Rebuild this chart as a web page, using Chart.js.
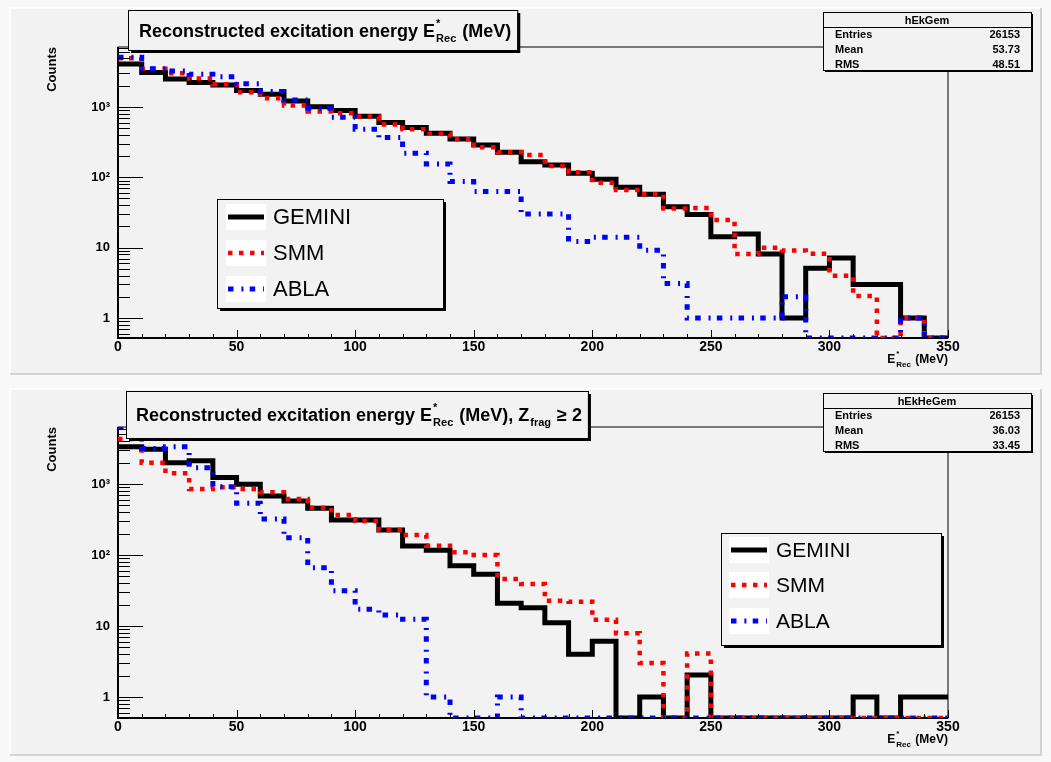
<!DOCTYPE html>
<html>
<head>
<meta charset="utf-8">
<script src="https://cdn.jsdelivr.net/npm/chart.js@4.4.1/dist/chart.umd.min.js"></script>
<style>
  html, body { margin: 0; padding: 0; background: #f8f8f8; }
  #wrap { position: relative; width: 1051px; height: 762px; }
  canvas { position: absolute; left: 0; }
  #cTop { top: 0; }
  #cBot { top: 381px; }
</style>
</head>
<body>
<div id="wrap">
  <canvas id="cTop" width="1051" height="381"></canvas>
  <canvas id="cBot" width="1051" height="381"></canvas>
</div>
<script>
// ---- data (10 MeV bins, 0..350 MeV) ----
const binEdges = [0, 10, 20, 30, 40, 50, 60, 70, 80, 90, 100, 110, 120, 130, 140, 150, 160, 170,
                  180, 190, 200, 210, 220, 230, 240, 250, 260, 270, 280, 290, 300, 310, 320, 330, 340, 350];

// all fragments
const topGemini = [4100, 3100, 2500, 2230, 2060, 1710, 1515, 1220, 1010, 890, 740, 600, 510, 424, 352, 289, 228, 167,
                   150, 114, 94, 72, 57.5, 38, 29.5, 14.3, 15.6, 8.1, 1, 5.1, 7.1, 3, 3, 1, 0];
const topSmm    = [4950, 3500, 3030, 2540, 2100, 1620, 1330, 1050, 860, 815, 730, 565, 483, 418, 347, 268, 228, 208,
                   145, 118, 84, 66, 57.5, 36, 36.5, 24.8, 8.1, 10, 9.1, 8.2, 4, 2.05, 0, 1, 0];
const topAbla   = [5100, 3500, 3260, 2925, 2700, 2140, 1660, 1260, 960, 716, 483, 367, 220, 155, 87, 63, 63, 30,
                   30, 12.2, 14, 14, 9.2, 3.1, 1, 1, 1, 1, 2, 0, 0, 0, 0, 1, 0];

// Z_frag >= 2
const botGemini = [3350, 3090, 1990, 2130, 1230, 990, 676, 577, 454, 310, 310, 225, 134, 117, 70.6, 53.5, 20.9, 18.1,
                   11.1, 4.0, 6.1, 0, 1, 0, 2.04, 0, 0, 0, 0, 0, 0, 1, 0, 1, 1];
const botSmm    = [4300, 1990, 1420, 850, 900, 850, 764, 617, 463, 366, 300, 225, 191, 135, 109, 100, 45.8, 39,
                   22.7, 22, 12.2, 7.9, 3.0, 0, 4.1, 0, 0, 0, 0, 0, 0, 0, 0, 0, 0];
const botAbla   = [6300, 3170, 3350, 1700, 915, 535, 321, 175, 66, 31.4, 17.2, 14.3, 12.4, 1, 0, 0, 1, 0,
                   0, 0, 0, 0, 0, 0, 0, 0, 0, 0, 0, 0, 0, 0, 0, 0, 0];

const seriesNames = ['GEMINI', 'SMM', 'ABLA'];
const xTickValues = [0, 50, 100, 150, 200, 250, 300, 350];
const yTickValues = [1, 10, 100, 1000];
const yTickLabels = ['1', '10', '10\u00b2', '10\u00b3'];

const statLabels = ['Entries', 'Mean', 'RMS'];
const topStatValues = ['26153', '53.73', '48.51'];
const botStatValues = ['26153', '36.03', '33.45'];

// ---- styles ----
const FONT = '"Liberation Sans", Arial, Helvetica, sans-serif';
Chart.defaults.font.family = FONT;

const seriesStyle = [
  { color: '#000000', width: 5, dash: [] },
  { color: '#ff0000', width: 4.5, dash: [4.5, 6.5] },
  { color: '#0000ff', width: 5, dash: [5.5, 7.9, 2, 6.3] }
];

// empty bins sit on the bottom of the log frame, like ROOT does
function histPoints(vals, yMin) {
  const pts = vals.map((v, i) => ({ x: binEdges[i], y: v > 0 ? v : yMin }));
  pts.push({ x: binEdges[vals.length], y: pts[pts.length - 1].y });
  return pts;
}

// draws text with E^{*}_{Rec} style stacked sup/sub pieces
function richText(ctx, x, y, segs, size, small, weight) {
  for (const s of segs) {
    if (s.t !== undefined) {
      ctx.font = `${weight} ${size}px ${FONT}`;
      ctx.fillText(s.t, x, y);
      x += ctx.measureText(s.t).width;
    } else {
      ctx.font = `${weight} ${small}px ${FONT}`;
      let w = 0;
      if (s.sup) { ctx.fillText(s.sup, x + 1, y - size * 0.55); w = Math.max(w, ctx.measureText(s.sup).width + 1); }
      if (s.sub) { ctx.fillText(s.sub, x + 1, y + size * 0.3); w = Math.max(w, ctx.measureText(s.sub).width + 1); }
      x += w + 1;
    }
  }
  return x;
}

function richWidth(ctx, segs, size, small, weight) {
  let w = 0;
  for (const s of segs) {
    if (s.t !== undefined) { ctx.font = `${weight} ${size}px ${FONT}`; w += ctx.measureText(s.t).width; }
    else {
      ctx.font = `${weight} ${small}px ${FONT}`;
      w += Math.max(s.sup ? ctx.measureText(s.sup).width + 1 : 0, s.sub ? ctx.measureText(s.sub).width + 1 : 0) + 1;
    }
  }
  return w;
}

function boxWithShadow(ctx, x, y, w, h, sh) {
  ctx.fillStyle = '#000';
  ctx.fillRect(x + sh, y + sh, w, h);
  ctx.fillStyle = '#f2f2f2';
  ctx.fillRect(x, y, w, h);
  ctx.strokeStyle = '#000';
  ctx.lineWidth = 1;
  ctx.strokeRect(x + 0.5, y + 0.5, w, h);
}

// ROOT look: pad, frame, inward ticks, title/stat/legend boxes
const rootPad = {
  id: 'rootPad',
  beforeDraw(chart) {
    const ctx = chart.ctx;
    ctx.save();
    ctx.fillStyle = '#f8f8f8';
    ctx.fillRect(0, 0, chart.width, chart.height);
    ctx.fillStyle = '#f2f2f2';
    ctx.fillRect(10, 8, 1031, 366);
    ctx.lineWidth = 1.5;
    ctx.strokeStyle = '#ffffff';
    ctx.beginPath(); ctx.moveTo(10, 374); ctx.lineTo(10, 8); ctx.lineTo(1041, 8); ctx.stroke();
    ctx.strokeStyle = '#c8c8c8';
    ctx.beginPath(); ctx.moveTo(1041, 8); ctx.lineTo(1041, 374); ctx.lineTo(10, 374); ctx.stroke();
    ctx.restore();
  },
  beforeDatasetsDraw(chart) {
    const ctx = chart.ctx, a = chart.chartArea;
    ctx.save();
    ctx.strokeStyle = '#000';
    ctx.lineWidth = 1;
    ctx.strokeRect(a.left, a.top, a.right - a.left, a.bottom - a.top);
    ctx.lineWidth = 2;
    ctx.beginPath();
    ctx.moveTo(a.left, a.top); ctx.lineTo(a.left, a.bottom); ctx.lineTo(a.right, a.bottom);
    ctx.stroke();
    ctx.restore();
  },
  afterDatasetsDraw(chart) {
    const ctx = chart.ctx, a = chart.chartArea;
    const xs = chart.scales.x, ys = chart.scales.y;
    ctx.save();
    ctx.strokeStyle = '#000';
    ctx.lineWidth = 1;
    ctx.beginPath();
    for (const v of binEdges) {
      const px = Math.round(xs.getPixelForValue(v)) + 0.5;
      const len = v % 50 === 0 ? 8 : 4;
      ctx.moveTo(px, a.bottom); ctx.lineTo(px, a.bottom - len);
    }
    for (const d of [0.1, 1, 10, 100, 1000]) {
      for (let k = 1; k <= 9; k++) {
        const v = k * d;
        if (v < ys.min || v > ys.max) continue;
        const py = Math.round(ys.getPixelForValue(v)) + 0.5;
        ctx.moveTo(a.left, py); ctx.lineTo(a.left + (k === 1 ? 25 : 12), py);
      }
    }
    ctx.stroke();
    ctx.restore();
  },
  afterDraw(chart, args, o) {
    const ctx = chart.ctx, a = chart.chartArea;
    ctx.save();
    ctx.textBaseline = 'alphabetic';

    // title box sized to its text
    const T = o.title;
    const tw = richWidth(ctx, T.segs, 18, 11, 'bold');
    boxWithShadow(ctx, T.x, T.y, tw + (T.tx - T.x) + 6, T.h, 3);
    ctx.fillStyle = '#000';
    ctx.textAlign = 'left';
    richText(ctx, T.tx, T.ty, T.segs, 18, 11, 'bold');

    // stat box
    const S = o.stats;
    boxWithShadow(ctx, 823, 12, 208, 58, 2);
    ctx.beginPath(); ctx.moveTo(823, 27.5); ctx.lineTo(1031, 27.5); ctx.stroke();
    ctx.fillStyle = '#000';
    ctx.font = `bold 11px ${FONT}`;
    ctx.textAlign = 'center';
    ctx.fillText(S.name, 927, 24);
    statLabels.forEach((lab, i) => {
      ctx.textAlign = 'left';
      ctx.fillText(lab, 835, 38 + i * 15);
      ctx.textAlign = 'right';
      ctx.fillText(S.values[i], 1020, 38 + i * 15);
    });

    // legend
    const L = o.legend;
    boxWithShadow(ctx, L.x, L.y, L.w, L.h, 3);
    seriesNames.forEach((name, i) => {
      const cy = L.rows[i];
      ctx.fillStyle = '#ffffff';
      ctx.fillRect(L.sx, cy - 13, 40, 26);
      const st = seriesStyle[i];
      ctx.strokeStyle = st.color;
      ctx.lineWidth = st.width;
      ctx.setLineDash(st.dash);
      ctx.beginPath(); ctx.moveTo(L.sx + 2, cy); ctx.lineTo(L.sx + 38, cy); ctx.stroke();
      ctx.setLineDash([]);
      ctx.fillStyle = '#000';
      ctx.font = `${L.font}px ${FONT}`;
      ctx.textAlign = 'left';
      ctx.textBaseline = 'middle';
      ctx.fillText(name, L.sx + 47, cy + 1);
      ctx.textBaseline = 'alphabetic';
    });

    // axis titles
    const xt = [{ t: 'E' }, { sup: '*', sub: 'Rec' }, { t: ' (MeV)' }];
    const w = richWidth(ctx, xt, 12, 8, 'bold');
    ctx.fillStyle = '#000';
    ctx.textAlign = 'left';
    richText(ctx, a.right - w, a.bottom + 25, xt, 12, 8, 'bold');

    ctx.translate(56, a.top);
    ctx.rotate(-Math.PI / 2);
    ctx.font = `bold 13px ${FONT}`;
    ctx.textAlign = 'right';
    ctx.fillText('Counts', 0, 0);
    ctx.restore();
  }
};

function makeChart(id, vals, yMin, yMax, frame, deco) {
  const datasets = vals.map((v, i) => ({
    label: seriesNames[i],
    data: histPoints(v, yMin),
    stepped: true,
    borderColor: seriesStyle[i].color,
    borderWidth: seriesStyle[i].width,
    borderDash: seriesStyle[i].dash,
    borderCapStyle: 'butt',
    borderJoinStyle: 'miter',
    pointRadius: 0,
    fill: false,
    order: 3 - i
  }));
  return new Chart(document.getElementById(id), {
    type: 'line',
    data: { datasets },
    options: {
      responsive: false,
      animation: false,
      devicePixelRatio: 1,
      events: [],
      layout: { padding: { left: 0, right: 1051 - frame.right, top: frame.top, bottom: 0 } },
      scales: {
        x: {
          type: 'linear', min: 0, max: 350,
          grid: { display: false, drawTicks: false },
          border: { display: false },
          afterBuildTicks: s => { s.ticks = xTickValues.map(v => ({ value: v })); },
          afterFit: s => { s.height = 381 - frame.bottom; },
          ticks: { autoSkip: false, maxRotation: 0, padding: 1, color: '#000',
                   font: { size: 14, weight: 'bold' } }
        },
        y: {
          type: 'logarithmic', min: yMin, max: yMax,
          grid: { display: false, drawTicks: false },
          border: { display: false },
          afterBuildTicks: s => { s.ticks = yTickValues.map(v => ({ value: v })); },
          afterFit: s => { s.width = frame.left; },
          ticks: { padding: 8, color: '#000', font: { size: 13, weight: 'bold' },
                   callback: v => yTickLabels[yTickValues.indexOf(v)] }
        }
      },
      plugins: {
        legend: { display: false },
        tooltip: { enabled: false },
        rootPad: deco
      }
    },
    plugins: [rootPad]
  });
}

makeChart('cTop', [topGemini, topSmm, topAbla], 0.519, 7130,
  { left: 118, right: 948, top: 47, bottom: 338 },
  {
    title: { x: 128, y: 10, h: 40, tx: 139, ty: 37,
             segs: [{ t: 'Reconstructed excitation energy E' }, { sup: '*', sub: 'Rec' }, { t: ' (MeV)' }] },
    stats: { name: 'hEkGem', values: topStatValues },
    legend: { x: 217, y: 199, w: 226, h: 109, sx: 226, rows: [217, 253, 289], font: 22 }
  });

makeChart('cBot', [botGemini, botSmm, botAbla], 0.506, 6350,
  { left: 118, right: 948, top: 46, bottom: 337 },
  {
    title: { x: 126, y: 10, h: 47, tx: 136, ty: 40,
             segs: [{ t: 'Reconstructed excitation energy E' }, { sup: '*', sub: 'Rec' }, { t: ' (MeV), Z' },
                    { sub: 'frag' }, { t: ' \u2265 2' }] },
    stats: { name: 'hEkHeGem', values: botStatValues },
    legend: { x: 721, y: 152, w: 220, h: 112, sx: 729, rows: [169, 204, 240], font: 21 }
  });
</script>
</body>
</html>
